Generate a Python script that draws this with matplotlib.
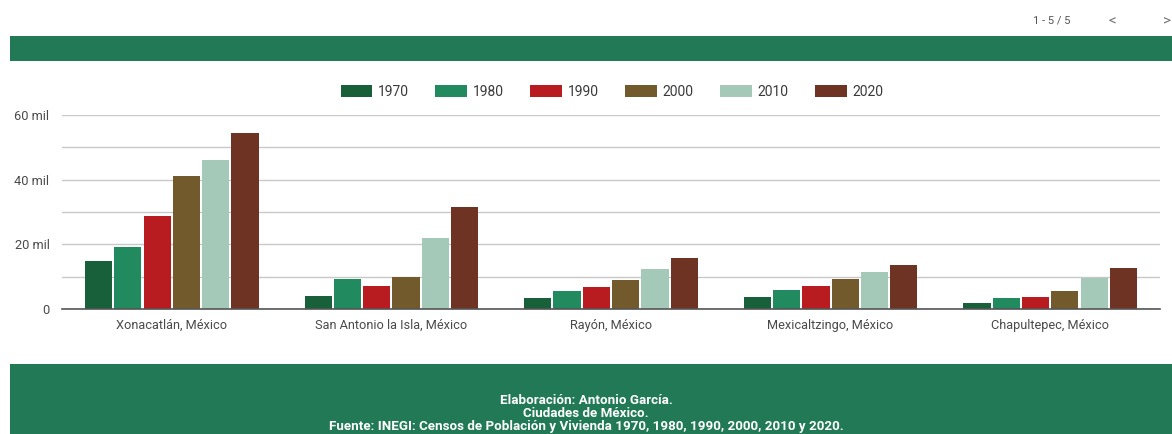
import matplotlib
matplotlib.use("Agg")
import matplotlib.pyplot as plt
import numpy as np
from matplotlib.patches import Rectangle

plt.rcParams['font.family'] = ['Roboto', 'DejaVu Sans']

categories = ["Xonacatlán, México", "San Antonio la Isla, México", "Rayón, México",
              "Mexicaltzingo, México", "Chapultepec, México"]
years = ["1970", "1980", "1990", "2000", "2010", "2020"]
v1970 = [14.8, 4.1, 3.4, 3.8, 1.8]
v1980 = [19.3, 9.2, 5.6, 5.8, 3.5]
v1990 = [28.8, 7.2, 6.8, 7.2, 3.8]
v2000 = [41.2, 10.0, 8.9, 9.2, 5.6]
v2010 = [46.1, 21.9, 12.5, 11.4, 9.5]
v2020 = [54.5, 31.5, 15.9, 13.5, 12.6]
series = [v1970, v1980, v1990, v2000, v2010, v2020]
colors = ["#17603a", "#218a5f", "#b81c20", "#735a2c", "#a5c9b9", "#6e3323"]
yticks = [0, 20, 40, 60]
ytick_labels = ["0", "20 mil", "40 mil", "60 mil"]
footer_lines = ["Elaboración: Antonio García.", "Ciudades de México.",
                "Fuente: INEGI: Censos de Población y Vivienda 1970, 1980, 1990, 2000, 2010 y 2020."]

W, H = 1172, 434
fig = plt.figure(figsize=(W / 100, H / 100), dpi=100)
fig.patch.set_facecolor("white")

def px(x0, y0, w, h):
    return [x0 / W, 1 - (y0 + h) / H, w / W, h / H]

green = "#217a55"
# header band
fig.patches.append(Rectangle((10 / W, 1 - 61 / H), (W - 10) / W, 25 / H,
                             transform=fig.transFigure, facecolor=green, edgecolor="none"))
# footer band
fig.patches.append(Rectangle((10 / W, 0), (W - 10) / W, (H - 364) / H,
                             transform=fig.transFigure, facecolor=green, edgecolor="none"))

ax = fig.add_axes(px(62, 115, 1098, 194))
n = len(categories)
x = np.arange(n)
group_w = 0.8
bw = group_w / len(series)
for i, (vals, c, yr) in enumerate(zip(series, colors, years)):
    ax.bar(x - group_w / 2 + bw * (i + 0.5), vals, width=bw * 0.93, color=c, label=yr, zorder=3)

ax.set_xlim(-0.5, n - 0.5)
ax.set_ylim(0, 60)
ax.set_yticks(yticks)
ax.set_yticklabels(ytick_labels)
ax.set_yticks([10, 30, 50], minor=True)
ax.grid(axis="y", which="both", color="#c8c8c8", linewidth=1, zorder=0)
ax.set_xticks(x)
ax.set_xticklabels(categories)
ax.tick_params(axis="both", which="both", length=0, labelsize=9.2, colors="#4a4a4a")
ax.tick_params(axis="x", pad=7)
ax.tick_params(axis="y", pad=9)
for s in ["top", "right", "left"]:
    ax.spines[s].set_visible(False)
ax.spines["bottom"].set_color("#555555")
ax.spines["bottom"].set_linewidth(1.2)
ax.spines["bottom"].set_zorder(4)

leg = ax.legend(loc="center", bbox_to_anchor=(612 / W, 1 - 92 / H), bbox_transform=fig.transFigure,
                ncol=6, frameon=False, fontsize=10, handlelength=2.3, handleheight=1.0,
                columnspacing=1.9, handletextpad=0.4, labelcolor="#3a3a3a")

# footer text
for k, line in enumerate(footer_lines):
    fig.text(0.5, 1 - (401 + 12.6 * k) / H, line, ha="center", va="center", color="white",
             fontsize=9.6, fontweight="bold")

# pager
fig.text(1052 / W, 1 - 20 / H, "1 - 5 / 5", ha="center", va="center", fontsize=8, color="#555555")
fig.text(1112 / W, 1 - 21 / H, "<", ha="center", va="center", fontsize=11, color="#777777")
fig.text(1167 / W, 1 - 21 / H, ">", ha="center", va="center", fontsize=11, color="#777777")

fig.savefig("out.png", dpi=100, facecolor="white")
